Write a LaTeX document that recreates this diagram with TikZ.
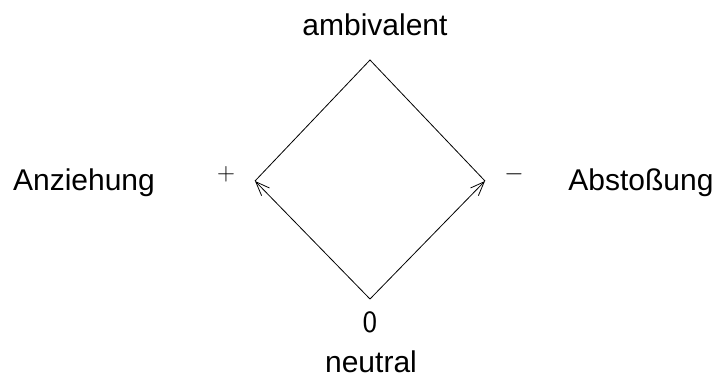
\documentclass[tikz,border=0pt]{standalone}
\usepackage{fontspec}
\setmainfont{Liberation Sans}
\usetikzlibrary{arrows.meta}
\begin{document}
\begin{tikzpicture}[x=1pt,y=-1pt,
  lbl/.style={inner sep=0pt,anchor=base,font=\fontsize{30}{36}\selectfont},
  sym/.style={inner sep=0pt,font=\fontsize{25}{30}\selectfont},
  edge/.style={line width=0.8pt,black},
  arr/.style={edge,-{Straight Barb[length=14pt,width=11pt,line width=0.8pt]}}]
\useasboundingbox (0,0) rectangle (721,383);
\coordinate (T) at (370,60);
\coordinate (L) at (255,181);
\coordinate (R) at (485,181);
\coordinate (B) at (370,299);
\draw[edge] (L) -- (T) -- (R);
\draw[arr] (B) -- (L);
\draw[arr] (B) -- (R);
\node[lbl] (amb) at (375,35) {ambivalent};
\node[lbl] (anz) at (84,190) {Anziehung};
\node[lbl] (abs) at (641,190) {Abstoßung};
\node[lbl] (neu) at (371,372) {neutral};
\node[sym] (plus) at (226,174) {$+$};
\node[sym] (minus) at (514,174) {$-$};
\node[inner sep=0pt,font=\sffamily\fontsize{31}{36}\selectfont] (zero) at (370,322) {0};
\end{tikzpicture}
\end{document}
